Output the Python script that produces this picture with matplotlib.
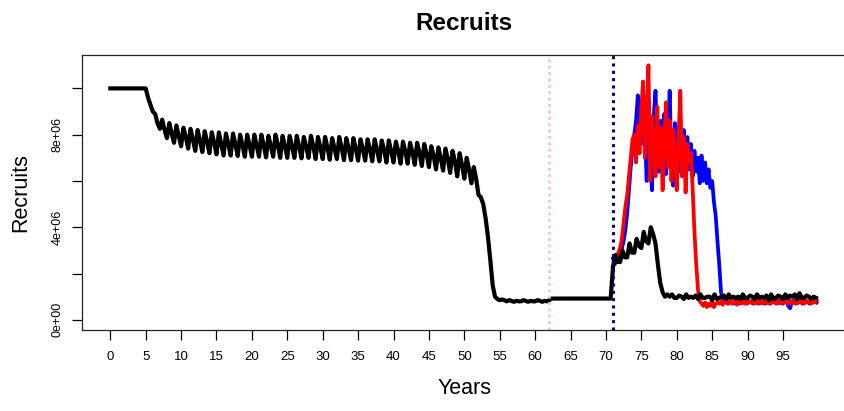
import numpy as np
import matplotlib
matplotlib.use("Agg")
import matplotlib.pyplot as plt

plt.rcParams['font.family'] = ['Liberation Sans', 'DejaVu Sans']

# recruits (millions), black run, three readings per year:
# start of year (lo), first third (hi), second third (mid)
black_lo = [
    10.0, 10.0, 10.0, 10.0, 10.0, 10.0, 9.0, 8.25, 7.85, 7.65,
    7.5, 7.4, 7.3, 7.25, 7.2, 7.15, 7.1, 7.1, 7.08, 7.05,
    7.05, 7.05, 7.02, 7.05, 7.0, 7.0, 7.0, 6.98, 7.0, 6.95,
    6.95, 6.92, 6.95, 6.9, 6.9, 6.88, 6.88, 6.85, 6.85, 6.8,
    6.8, 6.75, 6.75, 6.7, 6.65, 6.6, 6.5, 6.45, 6.35, 6.2,
    6.1, 5.9, 5.4, 4.4, 1.5, 0.85, 0.8, 0.78, 0.8, 0.78,
    0.8, 0.78, 0.85, 0.92, 0.92, 0.92, 0.92, 0.92, 0.92, 0.92,
    0.92, 2.3, 2.5, 2.7, 2.9, 3.1, 3.3, 3.3, 1.2, 1.0,
    0.95, 0.9, 1.0, 0.9, 0.95, 0.85, 0.95, 0.9, 1.0, 0.9,
    0.95, 0.9, 1.0, 0.85, 0.95, 0.9, 1.05, 0.9, 0.95, 0.9,
]
black_hi = [
    10.0, 10.0, 10.0, 10.0, 10.0, 9.6, 8.9, 8.65, 8.5, 8.4,
    8.3, 8.25, 8.2, 8.15, 8.1, 8.1, 8.05, 8.05, 8.0, 8.0,
    8.0, 8.0, 7.95, 8.0, 7.95, 7.95, 7.95, 7.9, 7.95, 7.9,
    7.9, 7.85, 7.9, 7.85, 7.85, 7.8, 7.8, 7.8, 7.75, 7.75,
    7.7, 7.7, 7.65, 7.65, 7.6, 7.5, 7.45, 7.4, 7.3, 7.2,
    7.0, 6.6, 5.3, 3.6, 1.0, 0.88, 0.85, 0.82, 0.85, 0.82,
    0.85, 0.82, 0.92, 0.92, 0.92, 0.92, 0.92, 0.92, 0.92, 0.92,
    0.92, 2.8, 3.0, 3.3, 3.5, 3.8, 4.0, 2.4, 1.0, 1.1,
    1.05, 1.1, 0.95, 1.1, 1.0, 1.1, 1.0, 1.1, 0.95, 1.1,
    1.05, 1.1, 0.95, 1.1, 1.05, 1.1, 1.0, 1.15, 1.05, 1.0,
]
black_mid = [
    10.0, 10.0, 10.0, 10.0, 10.0, 9.3, 8.5, 8.2, 8.05, 7.95,
    7.9, 7.8, 7.75, 7.7, 7.65, 7.6, 7.6, 7.58, 7.55, 7.55,
    7.55, 7.55, 7.52, 7.55, 7.5, 7.5, 7.5, 7.48, 7.5, 7.45,
    7.45, 7.42, 7.45, 7.4, 7.4, 7.38, 7.38, 7.35, 7.35, 7.3,
    7.3, 7.28, 7.25, 7.22, 7.18, 7.1, 7.0, 6.95, 6.85, 6.7,
    6.5, 6.1, 5.0, 2.6, 0.9, 0.85, 0.82, 0.8, 0.82, 0.8,
    0.82, 0.8, 0.92, 0.92, 0.92, 0.92, 0.92, 0.92, 0.92, 0.92,
    0.92, 2.5, 2.7, 2.9, 3.2, 3.4, 3.7, 1.6, 1.1, 0.95,
    1.0, 0.95, 1.05, 0.95, 1.0, 0.9, 1.05, 0.95, 1.0, 0.95,
    1.0, 0.95, 1.05, 0.9, 1.0, 0.95, 1.1, 0.95, 1.0, 0.95,
]

# blue and red runs, every quarter year from year 71
blue_vals = [
    2.65, 2.4, 2.6, 2.5, 2.9, 3.1, 3.4, 3.9,
    4.6, 5.6, 6.6, 7.4, 8.0, 8.6, 9.7, 8.4,
    7.6, 10.0, 8.2, 6.0, 9.4, 7.0, 5.6, 8.8,
    9.9, 7.5, 6.4, 8.6, 7.0, 8.9, 6.3, 7.9,
    9.9, 6.8, 5.8, 8.5, 7.2, 8.3, 6.4, 7.8,
    8.2, 6.9, 7.9, 6.5, 7.6, 6.2, 7.3, 6.4,
    7.0, 5.9, 7.1, 6.0, 6.8, 5.9, 6.5, 5.7,
    6.0, 5.1, 4.5, 3.4, 2.4, 1.2, 0.85, 0.75,
    0.8, 0.7, 0.85, 0.75, 0.7, 0.85, 0.75, 0.8,
    0.7, 0.9, 0.75, 0.7, 0.85, 0.75, 0.8, 0.7,
    0.9, 0.75, 0.7, 0.85, 0.75, 0.8, 0.7, 0.85,
    0.75, 0.7, 0.9, 0.75, 0.8, 0.7, 0.85, 0.75,
    0.7, 0.85, 0.8, 0.6, 0.5, 0.75, 0.85, 0.7,
    0.8, 0.75, 0.9, 0.7, 0.85, 0.75, 0.8, 0.7,
    0.85, 0.75, 0.8, 0.75,
]
red_vals = [
    2.3, 2.5, 2.7, 2.9, 3.1, 3.5, 4.2, 4.9,
    5.4, 6.2, 7.0, 7.8, 8.0, 6.8, 8.4, 7.2,
    9.2, 10.3, 7.0, 8.6, 11.0, 6.0, 8.8, 7.4,
    6.2, 9.2, 6.6, 8.3, 5.6, 8.0, 9.4, 6.6,
    8.6, 6.0, 8.2, 7.0, 5.6, 7.8, 9.9, 6.2,
    7.9, 5.5, 7.6, 6.8, 7.2, 5.6, 3.8, 2.4,
    1.3, 0.8, 0.7, 0.6, 0.75, 0.55, 0.7, 0.6,
    0.8, 0.55, 0.7, 0.75, 0.7, 0.8, 0.65, 0.85,
    0.75, 0.7, 0.85, 0.7, 0.8, 0.75, 0.65, 0.85,
    0.75, 0.8, 0.7, 0.85, 0.7, 0.8, 0.75, 0.85,
    0.7, 0.75, 0.85, 0.7, 0.8, 0.7, 0.85, 0.75,
    0.7, 0.85, 0.75, 0.8, 0.7, 0.85, 0.75, 0.7,
    0.85, 0.75, 0.8, 0.7, 0.85, 0.7, 0.8, 0.75,
    0.7, 0.85, 0.75, 0.8, 0.7, 0.85, 0.75, 0.8,
    0.7, 0.85, 0.75, 0.85,
]

start_year = 71
pink_year = 62
navy_year = 71

# put the three readings of each year in order
black_t = np.arange(0, 100, 1 / 3)[:300]
black = np.column_stack([black_lo, black_hi, black_mid]).ravel() * 1e6
run_t = np.arange(start_year, 100, 0.25)
blue = np.array(blue_vals) * 1e6
red = np.array(red_vals) * 1e6

fig = plt.figure(figsize=(8.45, 4.11), dpi=100)
ax = fig.add_axes([0.097, 0.197, 0.905, 0.669])

ax.plot(run_t, blue, color='#0000FF', lw=2.7)
ax.plot(run_t, red, color='#FF0000', lw=2.7)
ax.plot(black_t, black, color='black', lw=3)

ax.axvline(pink_year, color='#FFC0CB', lw=2, linestyle=(0, (1, 1.3)))
ax.axvline(navy_year, color='#000080', lw=2.2, linestyle=(0, (1, 1.4)))

ax.set_xlim(-4, 104)
ax.set_ylim(-0.44e6, 11.44e6)

ax.set_xticks(np.arange(0, 100, 5))
ax.set_xticklabels([str(v) for v in range(0, 100, 5)], fontsize=9.5)
ax.set_yticks(np.arange(0, 1.1e7, 2e6))
ax.set_yticklabels(['0e+00', '', '4e+06', '', '8e+06', ''], fontsize=9,
                   rotation=90, va='center')
ax.tick_params(axis='x', length=7, width=0.9, pad=8)
ax.tick_params(axis='y', length=7, width=0.9, pad=6)
for s in ax.spines.values():
    s.set_linewidth(0.9)
    s.set_color('#222222')

ax.set_title('Recruits', fontsize=17.5, fontweight='bold', pad=18)
ax.set_xlabel('Years', fontsize=15.5, labelpad=11)
ax.set_ylabel('Recruits', fontsize=15.5, labelpad=15)

fig.savefig('out.png', dpi=100)
